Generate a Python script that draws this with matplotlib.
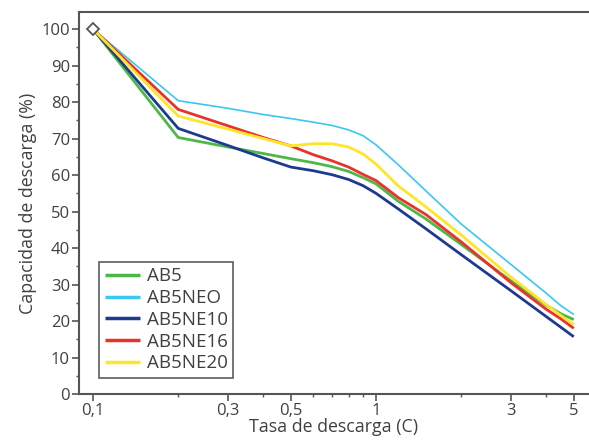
import matplotlib
matplotlib.use("Agg")
import matplotlib.pyplot as plt
from matplotlib.ticker import FixedLocator, FixedFormatter, NullFormatter

plt.rcParams['font.family'] = ['Open Sans', 'DejaVu Sans']

# Discharge rate (C)
rate = [0.1, 0.2, 0.3, 0.4, 0.5, 0.6, 0.7, 0.8, 0.9, 1.0, 1.2, 1.5, 2.0, 3.0, 4.0, 4.5, 5.0]

ab5     = [100, 70.3, 67.7, 65.9, 64.5, 63.4, 62.3, 61.0, 59.3, 57.6, 52.8, 48.0, 41.0, 31.0, 24.3, 22.0, 20.4]
ab5neo  = [100, 80.4, 78.3, 76.6, 75.5, 74.5, 73.6, 72.4, 70.8, 68.3, 62.8, 55.7, 46.6, 35.5, 27.6, 24.2, 21.8]
ab5ne10 = [100, 72.8, 68.1, 64.7, 62.2, 61.2, 60.1, 58.8, 57.1, 55.0, 50.7, 45.3, 38.2, 28.3, 21.2, 18.3, 15.7]
ab5ne16 = [100, 78.0, 73.5, 70.3, 68.0, 65.6, 63.9, 62.2, 60.2, 58.5, 53.8, 49.2, 41.7, 30.5, 23.2, 20.6, 18.0]
ab5ne20 = [100, 76.2, 72.6, 70.0, 68.0, 68.6, 68.6, 67.7, 65.8, 63.0, 57.0, 51.3, 43.6, 32.0, 24.5, 21.5, 19.0]

series = [
    ("AB5", ab5, "#4db848", 2.0),
    ("AB5NEO", ab5neo, "#38c8f2", 1.2),
    ("AB5NE10", ab5ne10, "#1e3a8f", 2.0),
    ("AB5NE16", ab5ne16, "#e8322a", 2.0),
    ("AB5NE20", ab5ne20, "#ffe52a", 2.0),
]

xticks = [0.1, 0.3, 0.5, 1, 3, 5]
xticklabels = ["0,1", "0,3", "0,5", "1", "3", "5"]
xminor = [0.2, 0.4, 0.6, 0.7, 0.8, 0.9, 2, 4]
yticks = list(range(0, 101, 10))

fig = plt.figure(figsize=(5.89, 4.41), dpi=100)
ax = fig.add_axes([79/589, 1-394/441, (589-79)/589, (394-12)/441])

for name, vals, col, lw in series:
    ax.plot(rate, vals, color=col, lw=lw, label=name, solid_capstyle='butt')

ax.plot([rate[0]], [100], marker='D', ms=6.5, mfc='white', mec='#555555', mew=1.3,
        ls='none', zorder=5)

ax.set_xscale('log')
ax.set_xlim(0.0892, 5.66)
ax.set_ylim(0, 104.7)

ax.xaxis.set_major_locator(FixedLocator(xticks))
ax.xaxis.set_major_formatter(FixedFormatter(xticklabels))
ax.xaxis.set_minor_locator(FixedLocator(xminor))
ax.xaxis.set_minor_formatter(NullFormatter())
ax.yaxis.set_major_locator(FixedLocator(yticks))
ax.yaxis.set_minor_locator(FixedLocator(list(range(5, 101, 10))))

txtc = '#404040'
spc = '#555555'
for s in ['left', 'bottom', 'top']:
    ax.spines[s].set_color(spc)
    ax.spines[s].set_linewidth(1.5)
ax.spines['right'].set_visible(False)

ax.tick_params(which='major', length=5, width=1.2, color=spc, labelsize=12, labelcolor=txtc, pad=1.5)
ax.tick_params(which='minor', length=2.5, width=1.0, color=spc)

ax.set_xlabel("Tasa de descarga (C)", fontsize=12.8, color=txtc, labelpad=-1)
ax.set_ylabel("Capacidad de descarga (%)", fontsize=12.8, color=txtc, labelpad=3)

leg = ax.legend(loc='lower left', bbox_to_anchor=(0.039, 0.042), fontsize=13.5,
                frameon=True, fancybox=False, edgecolor='#333333', handlelength=1.87,
                labelspacing=0.2, borderpad=0.3, handletextpad=0.37, borderaxespad=0)
leg.get_frame().set_linewidth(1.2)
for t in leg.get_texts():
    t.set_color(txtc)
for l in leg.get_lines():
    l.set_linewidth(2.5)

fig.savefig("out.png", dpi=100)
